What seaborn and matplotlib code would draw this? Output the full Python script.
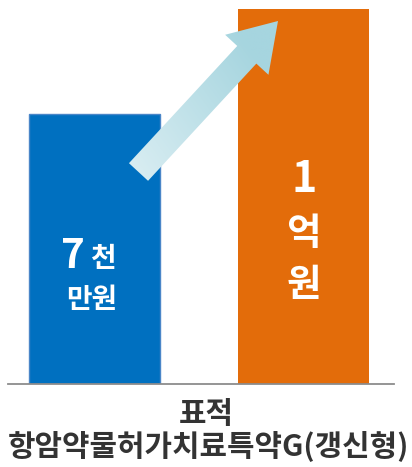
import numpy as np
import seaborn as sns
import matplotlib.pyplot as plt
from matplotlib.patches import FancyArrow
from matplotlib.transforms import Affine2D
from matplotlib.colors import LinearSegmentedColormap

# data
categories = ['기존', '표적항암약물허가치료특약G(갱신형)']
amounts = [7200, 10000]          # relative bar heights (7천만원 vs 1억원)
bar_colors = ['#0070c0', '#e36c0a']
title_lines = ['표적', '항암약물허가치료특약G(갱신형)']

W, H = 412, 467


def generate_plot():
    sns.set_theme(style='white')
    plt.rcParams['font.family'] = ['Noto Sans CJK KR', 'DejaVu Sans']

    fig = plt.figure(figsize=(W / 100, H / 100), dpi=100)
    ax = fig.add_axes([8 / W, (H - 383.5) / H, 386 / W, 374 / H])

    sns.barplot(x=categories, y=amounts, hue=categories, palette=bar_colors,
                legend=False, width=0.624, ax=ax, saturation=1)
    ax.patches[0].set_edgecolor('#4a86c8')
    ax.patches[0].set_linewidth(1.0)
    ax.patches[1].set_linewidth(0)

    ax.set_xticks([])
    ax.set_yticks([])
    ax.set_xlabel('')
    ax.set_ylabel('')
    for s in ['top', 'left', 'right']:
        ax.spines[s].set_visible(False)
    ax.spines['bottom'].set_color('#8c8c8c')
    ax.spines['bottom'].set_linewidth(1.3)

    # labels inside bars (y in value units)
    kw = dict(color='white', fontweight='black', va='center')
    ax.text(-0.045, 3400, '7', fontsize=29, ha='right', **kw)
    ax.text(-0.02, 3330, '천', fontsize=20, ha='left', **kw)
    ax.text(-0.014, 2220, '만원', fontsize=20, ha='center', **kw)
    ax.text(1.0, 5480, '1', fontsize=31, ha='center', **kw)
    ax.text(1.0, 4010, '억', fontsize=27, ha='center', **kw)
    ax.text(1.0, 2650, '원', fontsize=27, ha='center', **kw)

    # gradient arrow (pixel coords, y from top)
    to_px = Affine2D().scale(1, -1).translate(0, H)
    arrow = FancyArrow(138.5, 172, 139.5, -151, width=26, head_width=59,
                       head_length=46, length_includes_head=True,
                       transform=to_px, facecolor='none', edgecolor='none')
    fig.add_artist(arrow)
    cmap = LinearSegmentedColormap.from_list('arr', ['#f6fbfd', '#a6d5df'])
    xs, ys = np.meshgrid(np.linspace(0, 1, 256), np.linspace(0, 1, 256))
    val = (xs + (1 - ys)) / 2
    im = ax.imshow(val, cmap=cmap, extent=[-0.3, 1.0, 0, 10000],
                   origin='upper', aspect='auto', zorder=5,
                   vmin=0.25, vmax=0.85)
    im.set_clip_path(arrow)
    ax.set_xlim(-0.412, 1.431)
    ax.set_ylim(0, 10000)

    # category label
    fig.text(206 / W, 1 - 414 / H, title_lines[0], fontsize=21.5, fontweight='black',
             color='#333333', ha='center', va='center')
    fig.text(208 / W, 1 - 446 / H, title_lines[1], fontsize=21.5, fontweight='black',
             color='#333333', ha='center', va='center')

    fig.savefig('out.png', dpi=100)


def main():
    generate_plot()


if __name__ == '__main__':
    main()
